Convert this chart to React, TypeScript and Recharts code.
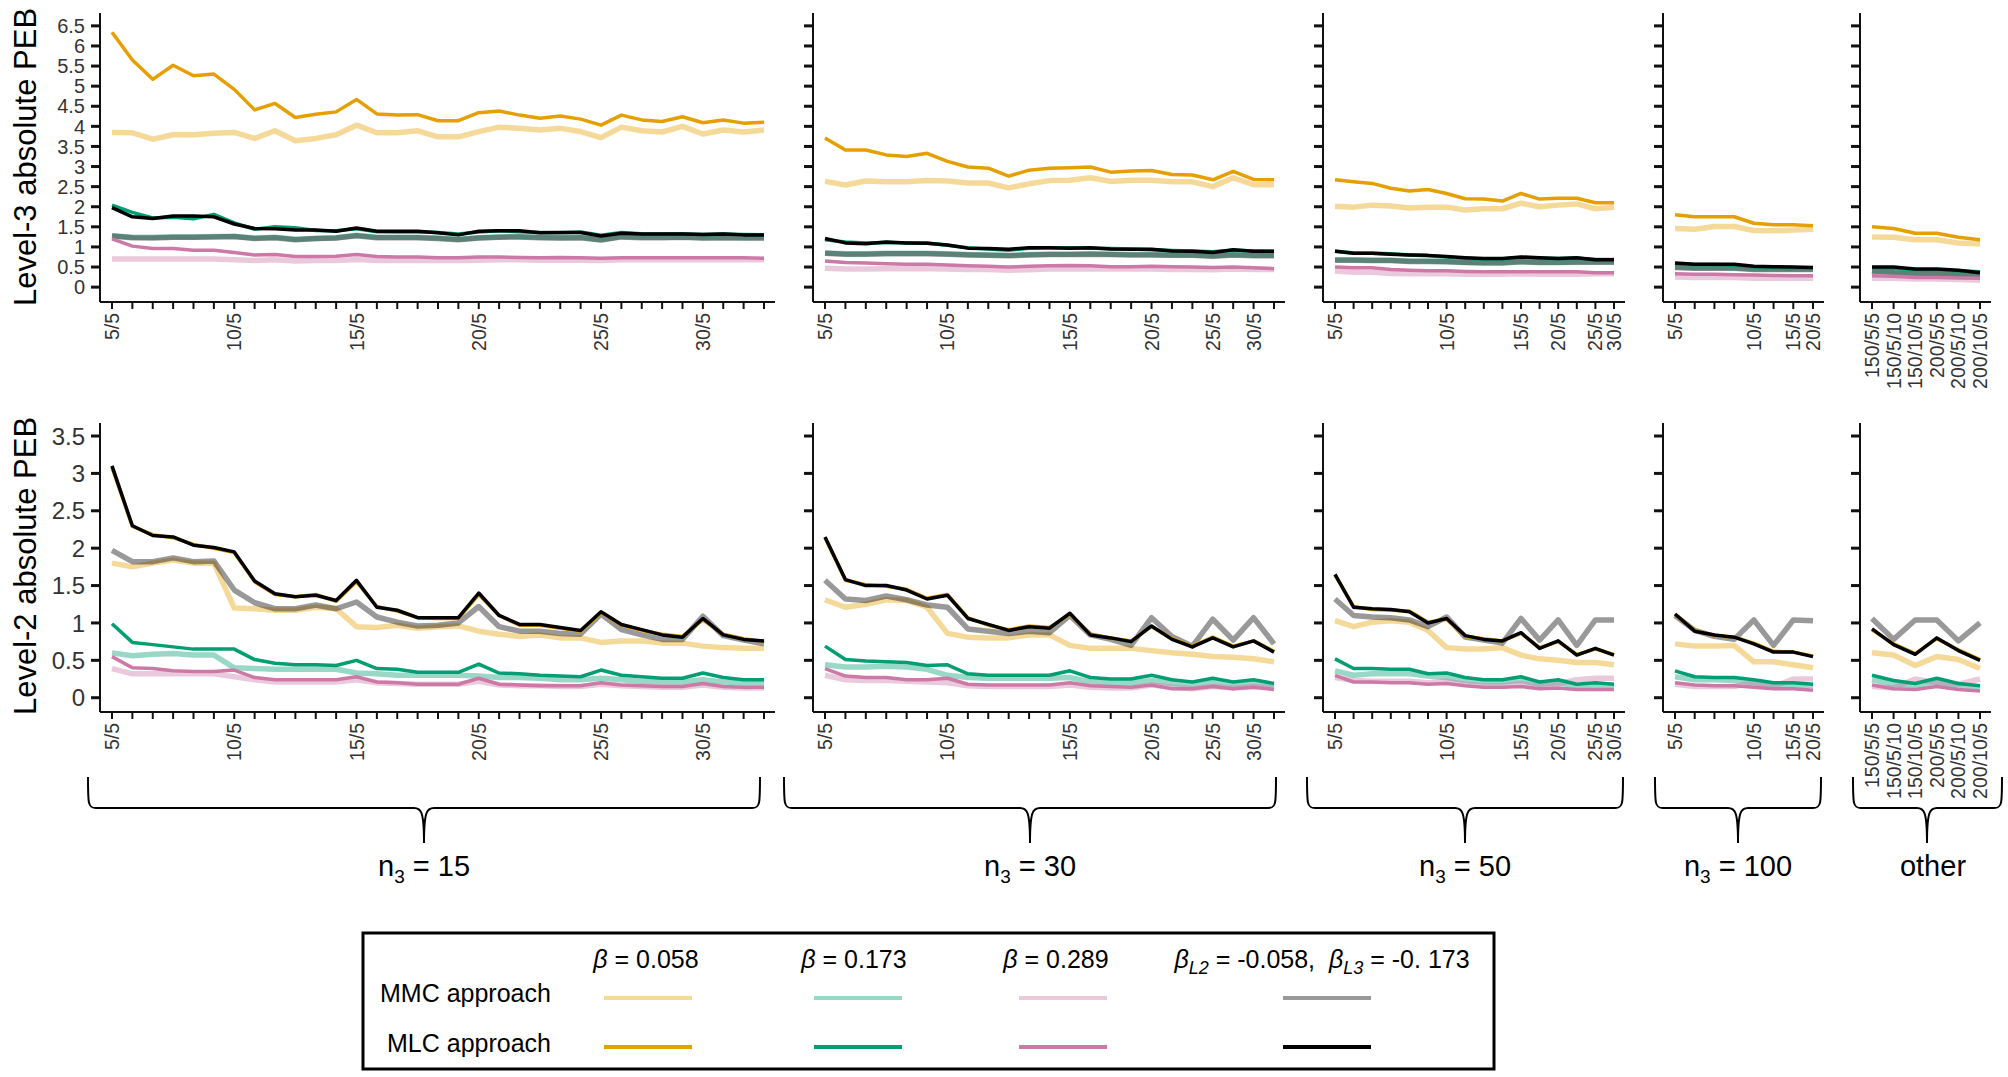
import React from 'react';
import { LineChart, Line, XAxis, YAxis } from 'recharts';

const FONT = '"Liberation Sans", Arial, sans-serif';

// x tick labels per design group (blank = unlabeled design)
const TICKS_N15 = ['5/5', '', '', '', '', '', '10/5', '', '', '', '', '', '15/5', '', '', '', '', '', '20/5', '', '', '', '', '', '25/5', '', '', '', '', '30/5', '', '', ''];
const TICKS_N30 = ['5/5', '', '', '', '', '', '10/5', '', '', '', '', '', '15/5', '', '', '', '20/5', '', '', '25/5', '', '30/5', ''];
const TICKS_N50 = ['5/5', '', '', '', '', '', '10/5', '', '', '', '15/5', '', '20/5', '', '25/5', '30/5'];
const TICKS_N100 = ['5/5', '', '', '', '10/5', '', '15/5', '20/5'];
const TICKS_OTHER = ['150/5/5', '150/5/10', '150/10/5', '200/5/5', '200/5/10', '200/10/5'];

const GROUP_NAMES = ['15', '30', '50', '100', 'other'];

const L3_Y_TICKS = [0, 0.5, 1, 1.5, 2, 2.5, 3, 3.5, 4, 4.5, 5, 5.5, 6, 6.5];
const L2_Y_TICKS = [0, 0.5, 1, 1.5, 2, 2.5, 3, 3.5];

// ---- Level-3 absolute PEB ----
const L3_15_MLC058 = [6.34, 5.65, 5.17, 5.52, 5.26, 5.3, 4.92, 4.41, 4.57, 4.22, 4.3, 4.36, 4.67, 4.31, 4.28, 4.29, 4.14, 4.14, 4.34, 4.38, 4.28, 4.2, 4.26, 4.18, 4.03, 4.28, 4.16, 4.12, 4.24, 4.09, 4.16, 4.08, 4.1];
const L3_15_MMC058 = [3.85, 3.84, 3.68, 3.79, 3.79, 3.83, 3.85, 3.7, 3.89, 3.64, 3.7, 3.79, 4.03, 3.84, 3.84, 3.89, 3.74, 3.74, 3.87, 3.98, 3.95, 3.91, 3.95, 3.87, 3.72, 3.98, 3.89, 3.86, 4.0, 3.81, 3.91, 3.86, 3.91];
const L3_15_MLCL = [1.98, 1.75, 1.71, 1.77, 1.77, 1.75, 1.57, 1.46, 1.45, 1.42, 1.42, 1.39, 1.47, 1.39, 1.39, 1.39, 1.35, 1.3, 1.39, 1.4, 1.4, 1.35, 1.36, 1.36, 1.27, 1.34, 1.32, 1.32, 1.32, 1.31, 1.32, 1.3, 1.3];
const L3_15_MLC173 = [2.04, 1.86, 1.72, 1.74, 1.7, 1.81, 1.6, 1.44, 1.5, 1.48, 1.41, 1.4, 1.45, 1.38, 1.37, 1.38, 1.36, 1.32, 1.37, 1.4, 1.38, 1.36, 1.35, 1.37, 1.29, 1.36, 1.33, 1.32, 1.33, 1.31, 1.32, 1.31, 1.3];
const L3_15_MMC173 = [1.28, 1.24, 1.24, 1.25, 1.25, 1.26, 1.26, 1.22, 1.24, 1.19, 1.21, 1.23, 1.29, 1.24, 1.24, 1.24, 1.22, 1.19, 1.23, 1.25, 1.26, 1.24, 1.23, 1.24, 1.18, 1.26, 1.24, 1.24, 1.25, 1.23, 1.24, 1.23, 1.23];
const L3_15_MMCL = [1.27, 1.23, 1.22, 1.24, 1.24, 1.25, 1.26, 1.21, 1.23, 1.18, 1.21, 1.22, 1.28, 1.23, 1.23, 1.23, 1.21, 1.18, 1.22, 1.24, 1.25, 1.23, 1.22, 1.23, 1.17, 1.25, 1.23, 1.23, 1.24, 1.22, 1.23, 1.22, 1.22];
const L3_15_MLC289 = [1.2, 1.02, 0.96, 0.96, 0.92, 0.92, 0.86, 0.8, 0.81, 0.76, 0.76, 0.77, 0.81, 0.76, 0.75, 0.75, 0.73, 0.73, 0.75, 0.75, 0.74, 0.73, 0.74, 0.73, 0.72, 0.73, 0.73, 0.73, 0.73, 0.73, 0.73, 0.73, 0.72];
const L3_15_MMC289 = [0.7, 0.7, 0.7, 0.7, 0.7, 0.7, 0.68, 0.66, 0.68, 0.65, 0.66, 0.66, 0.69, 0.66, 0.66, 0.66, 0.66, 0.66, 0.67, 0.68, 0.68, 0.67, 0.67, 0.67, 0.66, 0.68, 0.68, 0.68, 0.68, 0.68, 0.68, 0.68, 0.68];

const L3_30_MLC058 = [3.71, 3.41, 3.41, 3.29, 3.25, 3.33, 3.13, 2.99, 2.96, 2.76, 2.91, 2.96, 2.97, 2.99, 2.86, 2.89, 2.9, 2.8, 2.79, 2.67, 2.88, 2.68, 2.67];
const L3_30_MMC058 = [2.63, 2.54, 2.64, 2.62, 2.62, 2.65, 2.64, 2.59, 2.59, 2.47, 2.57, 2.65, 2.66, 2.72, 2.63, 2.66, 2.66, 2.62, 2.62, 2.5, 2.72, 2.55, 2.55];
const L3_30_MLCL = [1.21, 1.1, 1.08, 1.12, 1.1, 1.09, 1.05, 0.97, 0.96, 0.94, 0.98, 0.98, 0.97, 0.98, 0.95, 0.94, 0.94, 0.9, 0.89, 0.86, 0.93, 0.89, 0.89];
const L3_30_MLC173 = [1.18, 1.12, 1.1, 1.11, 1.1, 1.1, 1.04, 0.98, 0.95, 0.92, 0.97, 0.98, 0.98, 0.97, 0.96, 0.95, 0.93, 0.91, 0.9, 0.88, 0.92, 0.9, 0.89];
const L3_30_MMC173 = [0.85, 0.83, 0.83, 0.84, 0.84, 0.84, 0.83, 0.81, 0.8, 0.79, 0.81, 0.82, 0.82, 0.83, 0.82, 0.81, 0.81, 0.8, 0.8, 0.78, 0.81, 0.79, 0.79];
const L3_30_MMCL = [0.84, 0.82, 0.82, 0.83, 0.83, 0.83, 0.82, 0.8, 0.79, 0.78, 0.8, 0.81, 0.81, 0.82, 0.81, 0.8, 0.8, 0.79, 0.79, 0.77, 0.8, 0.78, 0.78];
const L3_30_MLC289 = [0.65, 0.61, 0.6, 0.58, 0.57, 0.57, 0.55, 0.53, 0.52, 0.5, 0.52, 0.53, 0.54, 0.53, 0.51, 0.51, 0.52, 0.51, 0.5, 0.49, 0.5, 0.48, 0.46];
const L3_30_MMC289 = [0.47, 0.45, 0.45, 0.46, 0.46, 0.46, 0.45, 0.44, 0.44, 0.42, 0.43, 0.45, 0.45, 0.46, 0.45, 0.45, 0.45, 0.44, 0.44, 0.43, 0.45, 0.44, 0.44];

const L3_50_MLC058 = [2.67, 2.62, 2.58, 2.46, 2.39, 2.43, 2.33, 2.2, 2.19, 2.14, 2.33, 2.19, 2.21, 2.21, 2.1, 2.1];
const L3_50_MMC058 = [2.01, 1.99, 2.04, 2.02, 1.97, 1.99, 1.99, 1.92, 1.95, 1.95, 2.09, 2.0, 2.04, 2.07, 1.95, 1.99];
const L3_50_MLCL = [0.89, 0.84, 0.84, 0.82, 0.8, 0.79, 0.76, 0.73, 0.71, 0.71, 0.75, 0.73, 0.71, 0.73, 0.68, 0.68];
const L3_50_MLC173 = [0.9, 0.85, 0.84, 0.83, 0.8, 0.78, 0.75, 0.72, 0.7, 0.7, 0.74, 0.72, 0.71, 0.72, 0.69, 0.69];
const L3_50_MMC173 = [0.68, 0.68, 0.67, 0.67, 0.65, 0.65, 0.64, 0.62, 0.61, 0.61, 0.64, 0.62, 0.62, 0.63, 0.63, 0.63];
const L3_50_MMCL = [0.67, 0.67, 0.66, 0.66, 0.64, 0.64, 0.63, 0.61, 0.6, 0.6, 0.63, 0.61, 0.61, 0.62, 0.62, 0.62];
const L3_50_MLC289 = [0.5, 0.48, 0.48, 0.44, 0.42, 0.41, 0.41, 0.39, 0.38, 0.38, 0.38, 0.38, 0.38, 0.38, 0.36, 0.36];
const L3_50_MMC289 = [0.4, 0.37, 0.37, 0.34, 0.33, 0.33, 0.33, 0.32, 0.32, 0.32, 0.33, 0.32, 0.32, 0.32, 0.33, 0.33];

const L3_100_MLC058 = [1.8, 1.75, 1.75, 1.75, 1.59, 1.55, 1.55, 1.53];
const L3_100_MMC058 = [1.46, 1.44, 1.51, 1.51, 1.41, 1.4, 1.42, 1.44];
const L3_100_MLCL = [0.6, 0.57, 0.57, 0.57, 0.52, 0.51, 0.5, 0.49];
const L3_100_MLC173 = [0.58, 0.56, 0.56, 0.55, 0.5, 0.49, 0.48, 0.48];
const L3_100_MMC173 = [0.5, 0.48, 0.48, 0.48, 0.45, 0.45, 0.45, 0.45];
const L3_100_MMCL = [0.49, 0.47, 0.47, 0.47, 0.44, 0.44, 0.44, 0.44];
const L3_100_MLC289 = [0.33, 0.32, 0.32, 0.31, 0.3, 0.29, 0.28, 0.28];
const L3_100_MMC289 = [0.25, 0.24, 0.24, 0.24, 0.22, 0.22, 0.22, 0.22];

const L3_OT_MLC058 = [1.5, 1.46, 1.34, 1.34, 1.24, 1.18];
const L3_OT_MMC058 = [1.25, 1.24, 1.18, 1.18, 1.1, 1.08];
const L3_OT_MLCL = [0.5, 0.5, 0.45, 0.45, 0.42, 0.36];
const L3_OT_MLC173 = [0.48, 0.47, 0.44, 0.43, 0.41, 0.38];
const L3_OT_MMC173 = [0.41, 0.37, 0.35, 0.33, 0.32, 0.3];
const L3_OT_MMCL = [0.4, 0.36, 0.34, 0.33, 0.31, 0.29];
const L3_OT_MLC289 = [0.28, 0.27, 0.24, 0.24, 0.23, 0.22];
const L3_OT_MMC289 = [0.22, 0.22, 0.2, 0.2, 0.19, 0.17];

// ---- Level-2 absolute PEB ----
const L2_15_MLCL = [3.1, 2.3, 2.17, 2.15, 2.04, 2.01, 1.95, 1.56, 1.39, 1.35, 1.37, 1.3, 1.57, 1.21, 1.17, 1.07, 1.07, 1.07, 1.4, 1.1, 0.98, 0.98, 0.94, 0.9, 1.15, 0.98, 0.91, 0.84, 0.81, 1.06, 0.84, 0.78, 0.76];
const L2_15_MLC058 = [3.08, 2.29, 2.18, 2.14, 2.05, 2.0, 1.94, 1.55, 1.38, 1.35, 1.38, 1.29, 1.55, 1.22, 1.16, 1.07, 1.06, 1.06, 1.38, 1.1, 0.97, 0.97, 0.93, 0.89, 1.14, 0.97, 0.9, 0.85, 0.82, 1.04, 0.85, 0.79, 0.75];
const L2_15_MMCL = [1.97, 1.82, 1.82, 1.87, 1.82, 1.83, 1.44, 1.27, 1.19, 1.19, 1.24, 1.19, 1.28, 1.08, 1.01, 0.96, 0.97, 1.0, 1.22, 0.95, 0.89, 0.89, 0.86, 0.85, 1.12, 0.91, 0.84, 0.78, 0.78, 1.09, 0.83, 0.77, 0.72];
const L2_15_MMC058 = [1.8, 1.75, 1.8, 1.84, 1.8, 1.8, 1.2, 1.19, 1.17, 1.17, 1.21, 1.19, 0.95, 0.94, 0.97, 0.93, 0.95, 0.96, 0.89, 0.85, 0.82, 0.84, 0.8, 0.8, 0.74, 0.76, 0.76, 0.73, 0.73, 0.69, 0.67, 0.66, 0.66];
const L2_15_MLC173 = [0.99, 0.74, 0.71, 0.68, 0.65, 0.65, 0.65, 0.51, 0.46, 0.44, 0.44, 0.43, 0.5, 0.39, 0.38, 0.34, 0.34, 0.34, 0.45, 0.33, 0.32, 0.3, 0.29, 0.28, 0.37, 0.3, 0.28, 0.26, 0.26, 0.33, 0.27, 0.24, 0.24];
const L2_15_MMC173 = [0.6, 0.56, 0.58, 0.59, 0.57, 0.57, 0.4, 0.39, 0.38, 0.38, 0.38, 0.38, 0.33, 0.32, 0.3, 0.3, 0.3, 0.3, 0.29, 0.27, 0.27, 0.26, 0.24, 0.24, 0.26, 0.24, 0.22, 0.21, 0.21, 0.24, 0.21, 0.2, 0.2];
const L2_15_MLC289 = [0.55, 0.4, 0.39, 0.36, 0.35, 0.35, 0.37, 0.27, 0.24, 0.24, 0.24, 0.24, 0.28, 0.21, 0.2, 0.18, 0.18, 0.18, 0.26, 0.18, 0.17, 0.16, 0.16, 0.16, 0.2, 0.17, 0.16, 0.15, 0.15, 0.19, 0.15, 0.14, 0.14];
const L2_15_MMC289 = [0.39, 0.32, 0.32, 0.32, 0.32, 0.32, 0.28, 0.24, 0.21, 0.21, 0.21, 0.21, 0.24, 0.2, 0.19, 0.18, 0.18, 0.18, 0.22, 0.17, 0.16, 0.16, 0.15, 0.15, 0.18, 0.16, 0.15, 0.14, 0.14, 0.17, 0.14, 0.13, 0.13];

const L2_30_MLCL = [2.15, 1.58, 1.5, 1.5, 1.44, 1.32, 1.37, 1.06, 0.98, 0.9, 0.95, 0.93, 1.13, 0.84, 0.8, 0.75, 0.96, 0.78, 0.68, 0.8, 0.68, 0.76, 0.61];
const L2_30_MLC058 = [2.14, 1.57, 1.51, 1.49, 1.45, 1.33, 1.38, 1.07, 0.97, 0.91, 0.96, 0.94, 1.12, 0.85, 0.8, 0.76, 0.95, 0.79, 0.69, 0.81, 0.69, 0.76, 0.62];
const L2_30_MMCL = [1.57, 1.32, 1.3, 1.36, 1.31, 1.24, 1.21, 0.92, 0.89, 0.86, 0.89, 0.87, 1.1, 0.84, 0.78, 0.7, 1.07, 0.82, 0.69, 1.05, 0.77, 1.07, 0.72];
const L2_30_MMC058 = [1.31, 1.21, 1.25, 1.31, 1.3, 1.21, 0.86, 0.81, 0.8, 0.8, 0.84, 0.84, 0.7, 0.66, 0.66, 0.66, 0.63, 0.6, 0.58, 0.55, 0.54, 0.52, 0.48];
const L2_30_MLC173 = [0.69, 0.51, 0.49, 0.48, 0.47, 0.43, 0.44, 0.32, 0.3, 0.3, 0.3, 0.3, 0.36, 0.27, 0.25, 0.25, 0.3, 0.24, 0.21, 0.26, 0.21, 0.24, 0.19];
const L2_30_MMC173 = [0.44, 0.41, 0.41, 0.42, 0.41, 0.38, 0.3, 0.27, 0.26, 0.26, 0.26, 0.26, 0.27, 0.21, 0.2, 0.2, 0.23, 0.19, 0.17, 0.2, 0.17, 0.19, 0.15];
const L2_30_MLC289 = [0.39, 0.29, 0.27, 0.27, 0.24, 0.24, 0.26, 0.18, 0.17, 0.17, 0.17, 0.17, 0.2, 0.16, 0.15, 0.14, 0.17, 0.12, 0.12, 0.15, 0.12, 0.14, 0.11];
const L2_30_MMC289 = [0.3, 0.24, 0.23, 0.23, 0.22, 0.21, 0.2, 0.16, 0.15, 0.15, 0.15, 0.15, 0.17, 0.14, 0.13, 0.13, 0.17, 0.14, 0.12, 0.15, 0.13, 0.15, 0.13];

const L2_50_MLCL = [1.65, 1.21, 1.19, 1.18, 1.15, 1.0, 1.06, 0.83, 0.78, 0.76, 0.87, 0.66, 0.76, 0.57, 0.66, 0.57];
const L2_50_MLC058 = [1.64, 1.22, 1.18, 1.17, 1.16, 1.01, 1.05, 0.82, 0.79, 0.76, 0.86, 0.67, 0.75, 0.58, 0.65, 0.58];
const L2_50_MMCL = [1.32, 1.1, 1.08, 1.07, 1.04, 0.95, 1.08, 0.81, 0.77, 0.73, 1.06, 0.77, 1.04, 0.7, 1.04, 1.04];
const L2_50_MMC058 = [1.03, 0.95, 1.01, 1.03, 1.01, 0.9, 0.67, 0.65, 0.65, 0.67, 0.57, 0.52, 0.5, 0.47, 0.47, 0.44];
const L2_50_MLC173 = [0.52, 0.39, 0.39, 0.38, 0.38, 0.32, 0.33, 0.27, 0.24, 0.24, 0.28, 0.21, 0.24, 0.18, 0.2, 0.18];
const L2_50_MMC173 = [0.36, 0.3, 0.32, 0.32, 0.32, 0.29, 0.27, 0.23, 0.21, 0.21, 0.23, 0.18, 0.2, 0.16, 0.17, 0.16];
const L2_50_MLC289 = [0.3, 0.21, 0.21, 0.2, 0.2, 0.18, 0.19, 0.16, 0.14, 0.14, 0.15, 0.12, 0.13, 0.11, 0.11, 0.11];
const L2_50_MMC289 = [0.27, 0.23, 0.22, 0.22, 0.22, 0.2, 0.22, 0.18, 0.16, 0.16, 0.19, 0.15, 0.19, 0.24, 0.26, 0.26];

const L2_100_MLCL = [1.12, 0.89, 0.84, 0.81, 0.72, 0.61, 0.61, 0.55];
const L2_100_MLC058 = [1.11, 0.9, 0.83, 0.81, 0.73, 0.62, 0.61, 0.56];
const L2_100_MMCL = [1.1, 0.9, 0.82, 0.78, 1.04, 0.7, 1.04, 1.03];
const L2_100_MMC058 = [0.72, 0.69, 0.69, 0.7, 0.48, 0.48, 0.44, 0.4];
const L2_100_MLC173 = [0.36, 0.28, 0.27, 0.27, 0.24, 0.2, 0.2, 0.18];
const L2_100_MMC173 = [0.28, 0.24, 0.24, 0.23, 0.2, 0.17, 0.17, 0.16];
const L2_100_MLC289 = [0.2, 0.17, 0.16, 0.16, 0.14, 0.12, 0.12, 0.1];
const L2_100_MMC289 = [0.18, 0.15, 0.15, 0.15, 0.2, 0.15, 0.25, 0.25];

const L2_OT_MLCL = [0.92, 0.71, 0.58, 0.8, 0.63, 0.5];
const L2_OT_MLC058 = [0.91, 0.72, 0.59, 0.79, 0.64, 0.51];
const L2_OT_MMCL = [1.06, 0.78, 1.04, 1.04, 0.76, 1.0];
const L2_OT_MMC058 = [0.6, 0.57, 0.43, 0.55, 0.51, 0.39];
const L2_OT_MLC173 = [0.3, 0.23, 0.19, 0.26, 0.19, 0.16];
const L2_OT_MMC173 = [0.24, 0.18, 0.16, 0.21, 0.16, 0.14];
const L2_OT_MLC289 = [0.17, 0.12, 0.11, 0.15, 0.11, 0.09];
const L2_OT_MMC289 = [0.15, 0.13, 0.25, 0.2, 0.18, 0.25];

type SeriesSet = Record<string, number[]>;

const ROW_L3: { ticks: string[]; s: SeriesSet }[] = [
  { ticks: TICKS_N15, s: { mmc058: L3_15_MMC058, mmc173: L3_15_MMC173, mmc289: L3_15_MMC289, mmcL: L3_15_MMCL, mlc058: L3_15_MLC058, mlc173: L3_15_MLC173, mlc289: L3_15_MLC289, mlcL: L3_15_MLCL } },
  { ticks: TICKS_N30, s: { mmc058: L3_30_MMC058, mmc173: L3_30_MMC173, mmc289: L3_30_MMC289, mmcL: L3_30_MMCL, mlc058: L3_30_MLC058, mlc173: L3_30_MLC173, mlc289: L3_30_MLC289, mlcL: L3_30_MLCL } },
  { ticks: TICKS_N50, s: { mmc058: L3_50_MMC058, mmc173: L3_50_MMC173, mmc289: L3_50_MMC289, mmcL: L3_50_MMCL, mlc058: L3_50_MLC058, mlc173: L3_50_MLC173, mlc289: L3_50_MLC289, mlcL: L3_50_MLCL } },
  { ticks: TICKS_N100, s: { mmc058: L3_100_MMC058, mmc173: L3_100_MMC173, mmc289: L3_100_MMC289, mmcL: L3_100_MMCL, mlc058: L3_100_MLC058, mlc173: L3_100_MLC173, mlc289: L3_100_MLC289, mlcL: L3_100_MLCL } },
  { ticks: TICKS_OTHER, s: { mmc058: L3_OT_MMC058, mmc173: L3_OT_MMC173, mmc289: L3_OT_MMC289, mmcL: L3_OT_MMCL, mlc058: L3_OT_MLC058, mlc173: L3_OT_MLC173, mlc289: L3_OT_MLC289, mlcL: L3_OT_MLCL } },
];

const ROW_L2: { ticks: string[]; s: SeriesSet }[] = [
  { ticks: TICKS_N15, s: { mmc058: L2_15_MMC058, mmc173: L2_15_MMC173, mmc289: L2_15_MMC289, mmcL: L2_15_MMCL, mlc058: L2_15_MLC058, mlc173: L2_15_MLC173, mlc289: L2_15_MLC289, mlcL: L2_15_MLCL } },
  { ticks: TICKS_N30, s: { mmc058: L2_30_MMC058, mmc173: L2_30_MMC173, mmc289: L2_30_MMC289, mmcL: L2_30_MMCL, mlc058: L2_30_MLC058, mlc173: L2_30_MLC173, mlc289: L2_30_MLC289, mlcL: L2_30_MLCL } },
  { ticks: TICKS_N50, s: { mmc058: L2_50_MMC058, mmc173: L2_50_MMC173, mmc289: L2_50_MMC289, mmcL: L2_50_MMCL, mlc058: L2_50_MLC058, mlc173: L2_50_MLC173, mlc289: L2_50_MLC289, mlcL: L2_50_MLCL } },
  { ticks: TICKS_N100, s: { mmc058: L2_100_MMC058, mmc173: L2_100_MMC173, mmc289: L2_100_MMC289, mmcL: L2_100_MMCL, mlc058: L2_100_MLC058, mlc173: L2_100_MLC173, mlc289: L2_100_MLC289, mlcL: L2_100_MLCL } },
  { ticks: TICKS_OTHER, s: { mmc058: L2_OT_MMC058, mmc173: L2_OT_MMC173, mmc289: L2_OT_MMC289, mmcL: L2_OT_MMCL, mlc058: L2_OT_MLC058, mlc173: L2_OT_MLC173, mlc289: L2_OT_MLC289, mlcL: L2_OT_MLCL } },
];

// MMC lines are drawn first (light, wide), MLC on top
const LINES = [
  { key: 'mmc058', color: '#E69F00', mmc: true },
  { key: 'mmc173', color: '#009E73', mmc: true },
  { key: 'mmc289', color: '#CC79A7', mmc: true },
  { key: 'mmcL', color: '#000000', mmc: true },
  { key: 'mlc058', color: '#E69F00', mmc: false },
  { key: 'mlc173', color: '#009E73', mmc: false },
  { key: 'mlc289', color: '#CC79A7', mmc: false },
  { key: 'mlcL', color: '#000000', mmc: false },
];

// layout (page pixels)
const PANEL_X = [[100, 775], [813, 1285], [1323, 1625], [1663, 1824], [1860, 1991]];
const AXIS_W = 70;
const CHART_H = 392;
const Y_TICK_SIZE = 9;
const Y_TICK_GAP = 6;
const AXIS_STYLE = { stroke: '#111', strokeWidth: 2 };

const toRows = (ticks: string[], s: SeriesSet) =>
  ticks.map((t, i) => {
    const r: Record<string, number | string> = { k: i, label: t };
    Object.keys(s).forEach((key) => { r[key] = s[key][i]; });
    return r;
  });

const renderXTick = (props: any, ticks: string[]) => {
  const { x, y, payload } = props;
  const text = ticks[payload.value];
  return (
    <g transform={`translate(${x},${y})`}>
      {text ? (
        <text transform="rotate(-90)" x={0} y={0} dy="0.36em" textAnchor="end" fontSize={19.5} fill="#333" fontFamily={FONT}>
          {text}
        </text>
      ) : null}
    </g>
  );
};

// y tick: the mark itself (the axis does not draw it here) plus an optional label
const renderYTick = (props: any, show: boolean, fontSize: number) => {
  const { x, y, payload } = props;
  return (
    <g transform={`translate(${x},${y})`}>
      <rect x={Y_TICK_GAP} y={-1.5} width={Y_TICK_SIZE + 1} height={3} fill="#111" />
      {show ? (
        <text x={0} y={0} dy="0.36em" textAnchor="end" fontSize={fontSize} fill="#333" fontFamily={FONT}>
          {String(payload.value)}
        </text>
      ) : null}
    </g>
  );
};

interface PanelProps {
  ticks: string[];
  s: SeriesSet;
  x0: number;
  x1: number;
  top: number;
  domain: [number, number];
  yTicks: number[];
  showY: boolean;
  yFont: number;
}

const Panel: React.FC<PanelProps> = ({ ticks, s, x0, x1, top, domain, yTicks, showY, yFont }) => {
  const rows = toRows(ticks, s);
  return (
    <div style={{ position: 'absolute', left: x0 - AXIS_W, top }}>
      <LineChart width={AXIS_W + (x1 - x0)} height={CHART_H} data={rows} margin={{ top: 13, right: 0, bottom: 0, left: 0 }}>
        <XAxis
          dataKey="k"
          type="category"
          interval={0}
          padding={{ left: 12, right: 11 }}
          height={90}
          tickSize={7}
          tickMargin={4}
          axisLine={AXIS_STYLE}
          tickLine={AXIS_STYLE}
          tick={(p: any) => renderXTick(p, ticks)}
        />
        <YAxis
          type="number"
          domain={domain}
          ticks={yTicks}
          allowDataOverflow
          interval={0}
          width={AXIS_W}
          tickSize={Y_TICK_SIZE}
          tickMargin={Y_TICK_GAP}
          axisLine={AXIS_STYLE}
          tickLine={false}
          tick={(p: any) => renderYTick(p, showY, yFont)}
        />
        {LINES.map((l) => (
          <Line
            key={l.key}
            dataKey={l.key}
            type="linear"
            stroke={l.color}
            strokeOpacity={l.mmc ? 0.4 : 1}
            strokeWidth={l.mmc ? 5.5 : 3.5}
            strokeLinejoin="round"
            dot={false}
            activeDot={false}
            isAnimationActive={false}
          />
        ))}
      </LineChart>
    </div>
  );
};

// braces under each design group: [left, right, centre]
const BRACES = [[88, 760, 424], [784, 1276, 1030], [1307, 1623, 1465], [1655, 1821, 1738], [1853, 2002, 1927]];

const bracePath = (l: number, r: number, c: number) => {
  const top = 777, h = 808, tip = 843;
  return `M ${l} ${top} C ${l} ${h - 4} ${l} ${h} ${l + 8} ${h} L ${c - 10} ${h} C ${c - 3} ${h} ${c} ${h + 3} ${c} ${tip} C ${c} ${h + 3} ${c + 3} ${h} ${c + 10} ${h} L ${r - 8} ${h} C ${r} ${h} ${r} ${h - 4} ${r} ${top}`;
};

const LEGEND_COLS = [648, 858, 1063, 1327];
const LEGEND_COLORS = ['#E69F00', '#009E73', '#CC79A7', '#000000'];

const App: React.FC = () => {
  return (
    <div style={{ position: 'absolute', left: 0, top: 0, width: 2008, height: 1077, background: '#fff', overflow: 'hidden' }}>
      {ROW_L3.map((p, i) => (
        <Panel key={`l3-${i}`} ticks={p.ticks} s={p.s} x0={PANEL_X[i][0]} x1={PANEL_X[i][1]} top={0} domain={[-0.37, 6.82]} yTicks={L3_Y_TICKS} showY={i === 0} yFont={20} />
      ))}
      {ROW_L2.map((p, i) => (
        <Panel key={`l2-${i}`} ticks={p.ticks} s={p.s} x0={PANEL_X[i][0]} x1={PANEL_X[i][1]} top={410} domain={[-0.191, 3.674]} yTicks={L2_Y_TICKS} showY={i === 0} yFont={24} />
      ))}
      <svg width={2008} height={1077} style={{ position: 'absolute', left: 0, top: 0, pointerEvents: 'none' }} fontFamily={FONT}>
        <text transform="translate(25,157) rotate(-90)" textAnchor="middle" dominantBaseline="central" fontSize={31} fill="#000">
          Level-3 absolute PEB
        </text>
        <text transform="translate(25,566) rotate(-90)" textAnchor="middle" dominantBaseline="central" fontSize={31} fill="#000">
          Level-2 absolute PEB
        </text>

        {BRACES.map(([l, r, c], i) => (
          <g key={`b-${i}`}>
            <path d={bracePath(l, r, c)} fill="none" stroke="#000" strokeWidth={2} />
            {GROUP_NAMES[i] === 'other' ? (
              <text x={c + 6} y={876} textAnchor="middle" fontSize={29} fill="#000">other</text>
            ) : (
              <text x={c} y={876} textAnchor="middle" fontSize={29} fill="#000">
                n<tspan fontSize={19} dy={7}>3</tspan>
                <tspan dy={-7}>{` = ${GROUP_NAMES[i]}`}</tspan>
              </text>
            )}
          </g>
        ))}

        <rect x={363} y={933} width={1131} height={136} fill="none" stroke="#000" strokeWidth={3} />
        <g fontSize={25} fill="#000">
          <text x={646} y={968} textAnchor="middle"><tspan fontStyle="italic">β</tspan> = 0.058</text>
          <text x={854} y={968} textAnchor="middle"><tspan fontStyle="italic">β</tspan> = 0.173</text>
          <text x={1056} y={968} textAnchor="middle"><tspan fontStyle="italic">β</tspan> = 0.289</text>
          <text x={1322} y={968} textAnchor="middle" style={{ whiteSpace: 'pre' }}>
            <tspan fontStyle="italic">β</tspan>
            <tspan fontStyle="italic" fontSize={18} dy={6}>L2</tspan>
            <tspan dy={-6}>{' = -0.058,  '}</tspan>
            <tspan fontStyle="italic">β</tspan>
            <tspan fontStyle="italic" fontSize={18} dy={6}>L3</tspan>
            <tspan dy={-6}>{' = -0. 173'}</tspan>
          </text>
          <text x={380} y={1002}>MMC approach</text>
          <text x={387} y={1052}>MLC approach</text>
        </g>
        {LEGEND_COLS.map((cx, i) => (
          <g key={`lg-${i}`}>
            <line x1={cx - 44} x2={cx + 44} y1={998} y2={998} stroke={LEGEND_COLORS[i]} strokeOpacity={0.4} strokeWidth={4} />
            <line x1={cx - 44} x2={cx + 44} y1={1047} y2={1047} stroke={LEGEND_COLORS[i]} strokeWidth={4} />
          </g>
        ))}
      </svg>
    </div>
  );
};

export default App;
